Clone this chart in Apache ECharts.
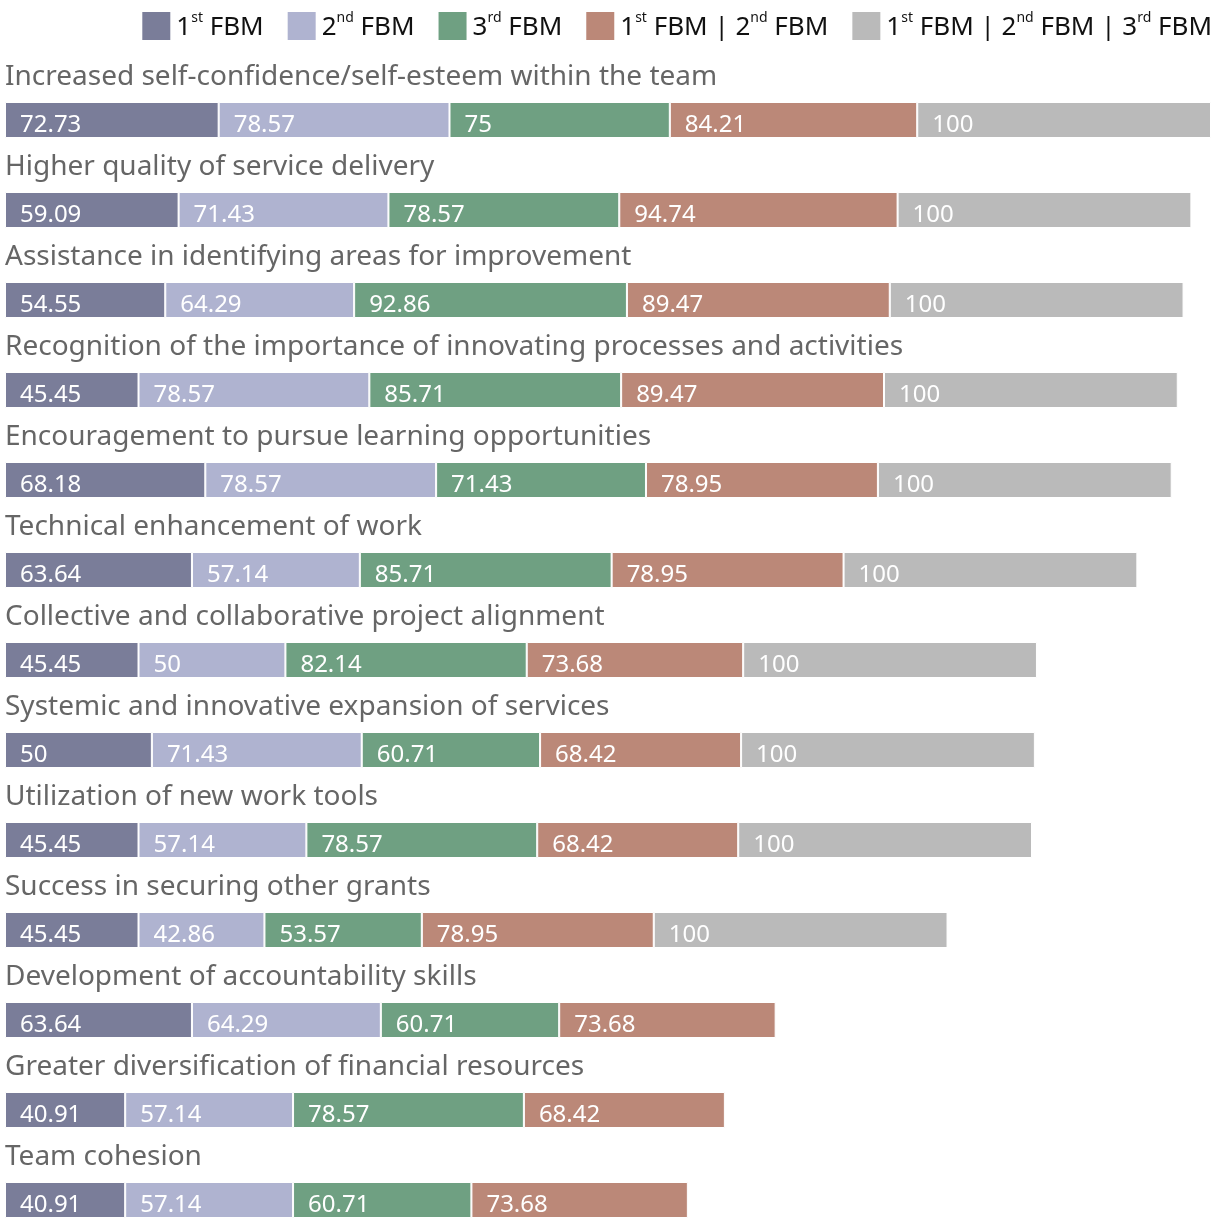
<!DOCTYPE html>
<html><head><meta charset="utf-8">
<script src="https://cdn.jsdelivr.net/npm/echarts@6/dist/echarts.min.js"></script>
<style>html,body{margin:0;padding:0;background:#fff}#c{width:1212px;height:1218px}</style>
</head><body><div id="c"></div>
<script>
const categories = [
  'Increased self-confidence/self-esteem within the team',
  'Higher quality of service delivery',
  'Assistance in identifying areas for improvement',
  'Recognition of the importance of innovating processes and activities',
  'Encouragement to pursue learning opportunities',
  'Technical enhancement of work',
  'Collective and collaborative project alignment',
  'Systemic and innovative expansion of services',
  'Utilization of new work tools',
  'Success in securing other grants',
  'Development of accountability skills',
  'Greater diversification of financial resources',
  'Team cohesion'
];
const seriesNames = ['1st FBM', '2nd FBM', '3rd FBM', '1st FBM | 2nd FBM', '1st FBM | 2nd FBM | 3rd FBM'];
const fbm1 = [72.73, 59.09, 54.55, 45.45, 68.18, 63.64, 45.45, 50, 45.45, 45.45, 63.64, 40.91, 40.91];
const fbm2 = [78.57, 71.43, 64.29, 78.57, 78.57, 57.14, 50, 71.43, 57.14, 42.86, 64.29, 57.14, 57.14];
const fbm3 = [75, 78.57, 92.86, 85.71, 71.43, 85.71, 82.14, 60.71, 78.57, 53.57, 60.71, 78.57, 60.71];
const fbm12 = [84.21, 94.74, 89.47, 89.47, 78.95, 78.95, 73.68, 68.42, 68.42, 78.95, 73.68, 68.42, 73.68];
const fbm123 = [100, 100, 100, 100, 100, 100, 100, 100, 100, 100, null, null, null];
const colors = ['#7a7d99', '#afb3d0', '#6fa082', '#bb8878', '#bababa'];

const allData = [fbm1, fbm2, fbm3, fbm12, fbm123];
const totals = categories.map((_, i) => allData.reduce((s, a) => s + (a[i] || 0), 0));
const xMax = Math.max(...totals);
const FONT = "'Noto Sans', sans-serif";

function legendFmt(name) {
  return name.split(' | ').map(p => {
    const m = p.match(/^(\d)(st|nd|rd)\s(.*)$/);
    return '{n|' + m[1] + '}{s|' + m[2] + '}{n| ' + m[3] + '}';
  }).join('{n| | }');
}

const chart = echarts.init(document.getElementById('c'));
chart.setOption({
  animation: false,
  color: colors,
  textStyle: { fontFamily: FONT },
  legend: {
    top: 5, right: -5,
    itemWidth: 30, itemHeight: 30, itemGap: 22,
    icon: 'rect',
    data: seriesNames,
    formatter: legendFmt,
    textStyle: {
      color: '#111',
      rich: {
        n: { fontSize: 26, fontFamily: FONT, color: '#111', lineHeight: 30, verticalAlign: 'bottom' },
        s: { fontSize: 14, fontFamily: FONT, color: '#111', lineHeight: 30, verticalAlign: 'top', padding: [0, 0, 10, 0] }
      }
    }
  },
  grid: { left: 5, right: 1, top: 75, height: 1170, outerBoundsMode: 'none', containLabel: false },
  xAxis: { type: 'value', min: 0, max: xMax, show: false },
  yAxis: {
    type: 'category', data: categories, inverse: true,
    axisLine: { show: false }, axisTick: { show: false },
    axisLabel: {
      show: true, interval: 0, hideOverlap: false,
      inside: true, margin: 0, align: 'left', verticalAlign: 'bottom',
      lineHeight: 85,
      color: '#666', fontSize: 28, fontFamily: FONT
    },
    z: 10
  },
  series: allData.map((d, k) => ({
    name: seriesNames[k], type: 'bar', stack: 'all', data: d, barWidth: 36,
    itemStyle: { borderColor: '#fff', borderWidth: 1 },
    label: {
      show: true, position: 'insideLeft', distance: 15, color: '#fff',
      fontSize: 24, fontFamily: FONT, offset: [0, 5],
      formatter: p => p.value
    }
  }))
});
</script></body></html>
